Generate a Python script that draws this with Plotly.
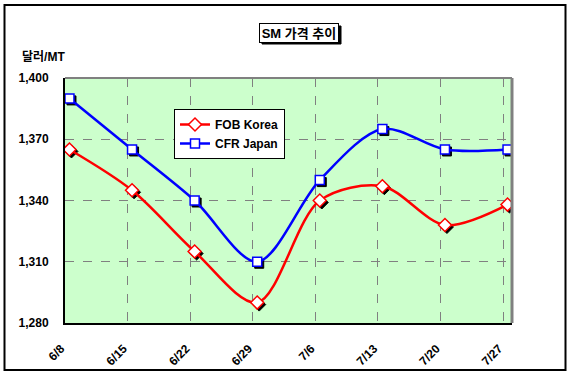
import plotly.graph_objects as go
import pandas as pd

# ---- data ----
dates = ["2007-06-08", "2007-06-15", "2007-06-22", "2007-06-29",
         "2007-07-06", "2007-07-13", "2007-07-20", "2007-07-27"]
tick_labels = ["6/8", "6/15", "6/22", "6/29", "7/6", "7/13", "7/20", "7/27"]
fob_korea = [1365, 1345, 1315, 1290, 1340, 1347, 1328, 1338]
cfr_japan = [1390, 1365, 1340, 1310, 1350, 1375, 1365, 1365]
y_ticks = [1280, 1310, 1340, 1370, 1400]

# points sit in the middle of each day (Excel date axis)
x_pts = [pd.Timestamp(d) + pd.Timedelta(hours=12) for d in dates]
x_ticks = [pd.Timestamp(d) for d in dates]

x_start = pd.Timestamp("2007-06-08")
x_end = pd.Timestamp("2007-07-28")

FONT = "Liberation Sans, Arial, Noto Sans CJK KR, sans-serif"

# plot area geometry (px)
L, R, T, B = 65, 512, 78, 323
W, H = 569, 379
pw, ph = R - L, B - T


def px_x(px):
    return (px - L) / pw


def px_y(py):
    return (B - py) / ph


# shadow offset (2px right, 2px down) expressed as an axis-range shift
days_per_px = (x_end - x_start) / pw
units_per_px = (1400 - 1280) / ph
sx = days_per_px * 2
sy = units_per_px * 2

fig = go.Figure()

series = [
    ("FOB Korea", fob_korea, "#FF0000", "diamond", 10),
    ("CFR Japan", cfr_japan, "#0000FF", "square", 9),
]

# shadows on x2/y2
for name, vals, col, sym, size in series:
    fig.add_trace(go.Scatter(
        x=x_pts, y=vals, mode="markers", xaxis="x2", yaxis="y2",
        marker=dict(symbol=sym, size=size, color="black",
                    line=dict(color="black", width=1)),
        showlegend=False, hoverinfo="skip"))

# main series on x3/y3
for name, vals, col, sym, size in series:
    fig.add_trace(go.Scatter(
        x=x_pts, y=vals, mode="lines+markers", name=name,
        xaxis="x3", yaxis="y3",
        line=dict(color=col, width=2.5, shape="spline", smoothing=0.9),
        marker=dict(symbol=sym, size=size, color="white",
                    line=dict(color=col, width=1.5))))

# a dummy trace so the base axes are rendered
fig.add_trace(go.Scatter(x=[x_pts[0]], y=[fob_korea[0]], mode="markers",
                         marker=dict(opacity=0), showlegend=False,
                         hoverinfo="skip"))

fig.update_layout(
    width=W, height=H,
    margin=dict(l=L, r=W - R, t=T, b=H - B),
    paper_bgcolor="white",
    plot_bgcolor="#CCFFCC",
    font=dict(family=FONT, size=12, color="black"),
    showlegend=True,
    legend=dict(
        x=px_x(174), y=px_y(109), xanchor="left", yanchor="top",
        bgcolor="white", bordercolor="black", borderwidth=1,
        font=dict(family=FONT, size=12, color="black", weight="bold"),
        itemwidth=30, tracegroupgap=0,
    ),
    xaxis=dict(
        type="date", range=[x_start, x_end],
        tickvals=x_ticks, ticktext=tick_labels, tickangle=-45,
        showgrid=True, gridcolor="#808080", griddash="dash", gridwidth=1,
        showline=True, linecolor="black", linewidth=2,
        ticks="", ticklabelstandoff=12, ticklabelshift=-4,
        tickfont=dict(family=FONT, size=12, color="black", weight="bold"),
        zeroline=False, fixedrange=True,
    ),
    yaxis=dict(
        range=[1280, 1400], tickvals=y_ticks, tickformat=",",
        showgrid=True, gridcolor="#808080", griddash="dash", gridwidth=1,
        showline=True, linecolor="black", linewidth=2,
        ticks="", ticklabelstandoff=12,
        tickfont=dict(family=FONT, size=12, color="black", weight="bold"),
        zeroline=False, fixedrange=True,
    ),
    xaxis2=dict(type="date", overlaying="x", range=[x_start - sx, x_end - sx],
                visible=False, fixedrange=True),
    yaxis2=dict(overlaying="y", range=[1280 + sy, 1400 + sy],
                visible=False, fixedrange=True),
    xaxis3=dict(type="date", overlaying="x", range=[x_start, x_end],
                visible=False, fixedrange=True),
    yaxis3=dict(overlaying="y", range=[1280, 1400],
                visible=False, fixedrange=True),
)

shapes = [
    # gray top and right plot border
    dict(type="line", xref="paper", yref="paper", x0=0, x1=1, y0=1, y1=1,
         line=dict(color="#808080", width=2), layer="above"),
    dict(type="line", xref="paper", yref="paper", x0=1, x1=1, y0=0, y1=1,
         line=dict(color="#808080", width=3), layer="above"),
    # outer chart border
    dict(type="rect", xref="paper", yref="paper",
         x0=px_x(4.5), x1=px_x(565.5), y0=px_y(370), y1=px_y(5),
         line=dict(color="black", width=2), fillcolor="rgba(0,0,0,0)"),
    # title box shadow
    dict(type="rect", xref="paper", yref="paper",
         x0=px_x(262), x1=px_x(341), y0=px_y(44), y1=px_y(26),
         line=dict(color="black", width=1), fillcolor="black"),
]
fig.update_layout(shapes=shapes)

fig.add_annotation(
    x=px_x(298.5), y=px_y(32.5), xref="paper", yref="paper",
    xanchor="center", yanchor="middle",
    text="SM 가격 추이", showarrow=False,
    font=dict(family=FONT, size=13, color="black", weight="bold"),
    bgcolor="white", bordercolor="black", borderwidth=1,
    width=76, height=16, borderpad=1,
)
fig.add_annotation(
    x=px_x(20), y=px_y(57), xref="paper", yref="paper",
    xanchor="left", yanchor="middle",
    text="달러/MT", showarrow=False,
    font=dict(family=FONT, size=12, color="black", weight="bold"),
)

fig.write_html("out.html")
